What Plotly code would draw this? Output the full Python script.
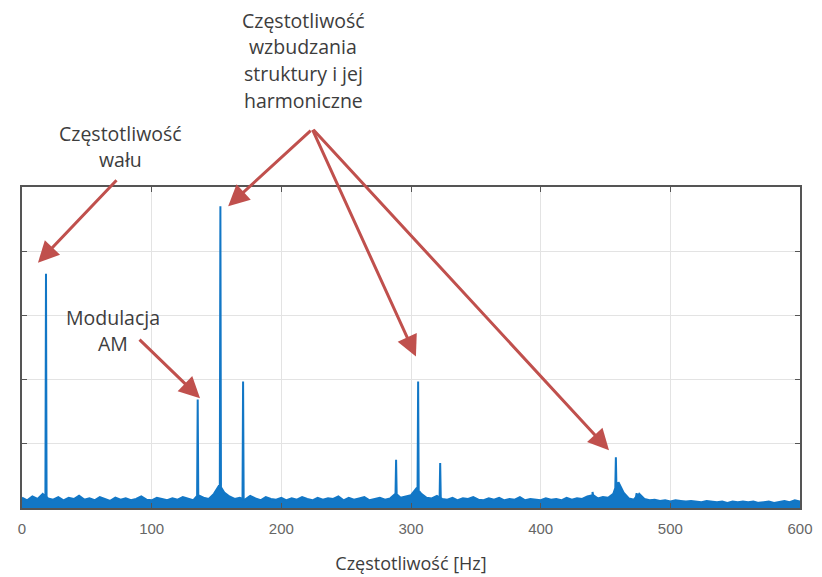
import numpy as np
import plotly.graph_objects as go

# ---------------- data ----------------
# noise floor of the spectrum, sampled every 4 Hz from 0 to 600 Hz
noise_step = 4
noise_floor = [
    0.16, 0.12, 0.18, 0.14, 0.22, 0.15, 0.13, 0.17, 0.12, 0.16,
    0.14, 0.19, 0.13, 0.15, 0.12, 0.17, 0.14, 0.11, 0.16, 0.13,
    0.15, 0.12, 0.14, 0.18, 0.13, 0.12, 0.16, 0.14, 0.12, 0.15,
    0.13, 0.17, 0.14, 0.12, 0.20, 0.16, 0.14, 0.22, 0.35, 0.24,
    0.18, 0.14, 0.16, 0.13, 0.19, 0.15, 0.12, 0.17, 0.14, 0.13,
    0.16, 0.12, 0.15, 0.13, 0.17, 0.14, 0.12, 0.16, 0.13, 0.15,
    0.14, 0.18, 0.12, 0.16, 0.13, 0.15, 0.17, 0.12, 0.14, 0.16,
    0.13, 0.15, 0.22, 0.16, 0.18, 0.20, 0.30, 0.22, 0.16, 0.15,
    0.19, 0.14, 0.13, 0.16, 0.12, 0.15, 0.14, 0.17, 0.13, 0.12,
    0.15, 0.13, 0.16, 0.12, 0.14, 0.13, 0.17, 0.12, 0.14, 0.13,
    0.12, 0.15, 0.13, 0.14, 0.12, 0.16, 0.13, 0.15, 0.14, 0.18,
    0.20, 0.15, 0.17, 0.16, 0.22, 0.40, 0.24, 0.15, 0.13, 0.22,
    0.14, 0.12, 0.13, 0.11, 0.12, 0.10, 0.12, 0.11, 0.10, 0.11,
    0.10, 0.09, 0.11, 0.10, 0.09, 0.10, 0.08, 0.10, 0.09, 0.10,
    0.09, 0.10, 0.08, 0.09, 0.10, 0.08, 0.09, 0.11, 0.09, 0.12,
    0.10,
]

# spectral lines (Hz) and their amplitudes
peak_freqs = [18.5, 135.5, 153.0, 170.5, 288.5, 305.5, 322.5, 440.0, 458.0, 474.0]
peak_amps = [3.65, 1.69, 4.70, 1.97, 0.75, 1.97, 0.70, 0.25, 0.79, 0.23]

x_ticks = [0, 100, 200, 300, 400, 500, 600]
x_title = "Częstotliwość [Hz]"

label_shaft = ["Częstotliwość", "wału"]
label_am = ["Modulacja", "AM"]
label_struct = ["Częstotliwość", "wzbudzania", "struktury i jej", "harmoniczne"]

# ---------------- build spectrum ----------------
nf = np.arange(len(noise_floor)) * noise_step
na = np.array(noise_floor)
fx = list(nf)
fy = list(na)
half = 0.45
for f, a in zip(peak_freqs, peak_amps):
    base = float(np.interp(f, nf, na))
    fx += [f - half, f, f + half]
    fy += [base, a, base]
order = np.argsort(fx, kind="stable")
fx = np.array(fx)[order]
fy = np.array(fy)[order]

BLUE = "#1277c6"
RED = "#c0504d"
TXT = "#3d3d3d"

fig = go.Figure()
fig.add_trace(go.Scatter(
    x=fx, y=fy, mode="lines",
    line=dict(color=BLUE, width=2),
    fill="tozeroy", fillcolor=BLUE,
    hoverinfo="skip", showlegend=False,
))

W, H = 822, 577
ML, MR, MT, MB = 22, 22, 187, 69

axis_common = dict(
    showline=True, linecolor="#555555", linewidth=1.5, mirror="ticks",
    ticks="inside", ticklen=5, tickcolor="#555555", tickwidth=1,
    showgrid=True, gridcolor="#e3e3e3", gridwidth=1, zeroline=False,
    automargin=False,
)

fig.update_layout(
    width=W, height=H,
    margin=dict(l=ML, r=MR, t=MT, b=MB),
    paper_bgcolor="white", plot_bgcolor="white",
    xaxis=dict(
        range=[0, 600], tickvals=x_ticks, ticktext=[str(v) for v in x_ticks],
        tickfont=dict(family="Liberation Sans, Arial, sans-serif", size=15, color="#666666"),
        ticklabelstandoff=6,
        title=dict(text=x_title, standoff=22,
                   font=dict(family="Open Sans, sans-serif", size=18, color=TXT)),
        **axis_common,
    ),
    yaxis=dict(
        range=[0, 5], dtick=1, showticklabels=False,
        **axis_common,
    ),
)

annotations = []

def add_label(lines, xc, y_first, spacing=26.7, size=19.5):
    for i, t in enumerate(lines):
        py = y_first + i * spacing
        annotations.append(dict(
            x=(xc - ML) / (W - ML - MR), y=(H - MB - py) / (H - MT - MB),
            xref="paper", yref="paper", text=t, showarrow=False,
            xanchor="center", yanchor="middle",
            font=dict(family="Open Sans, sans-serif", size=size, color=TXT),
        ))

add_label(label_shaft, 120, 133)
add_label(label_am, 113, 317)
add_label(label_struct, 303, 20)

# arrows: (peak index, dx Hz, dy amplitude from peak top, tail offset px)
arrow_specs = [
    (0, -6.2, 0.17, 80, -84),
    (1, 1.8, 0.02, -62, -60),
    (2, 6.0, 0.00, 84, -77),
    (5, -1.7, 0.39, -104, -228),
    (8, -5.3, 0.11, -297, -322),
]
for idx, dx, dy, axp, ayp in arrow_specs:
    annotations.append(dict(
        x=peak_freqs[idx] + dx, y=peak_amps[idx] + dy, xref="x", yref="y",
        ax=axp, ay=ayp, axref="pixel", ayref="pixel",
        showarrow=True, arrowhead=2, arrowsize=1.4, arrowwidth=3,
        arrowcolor=RED, text="", standoff=0,
    ))

fig.update_layout(annotations=annotations)
fig.write_html("out.html")
